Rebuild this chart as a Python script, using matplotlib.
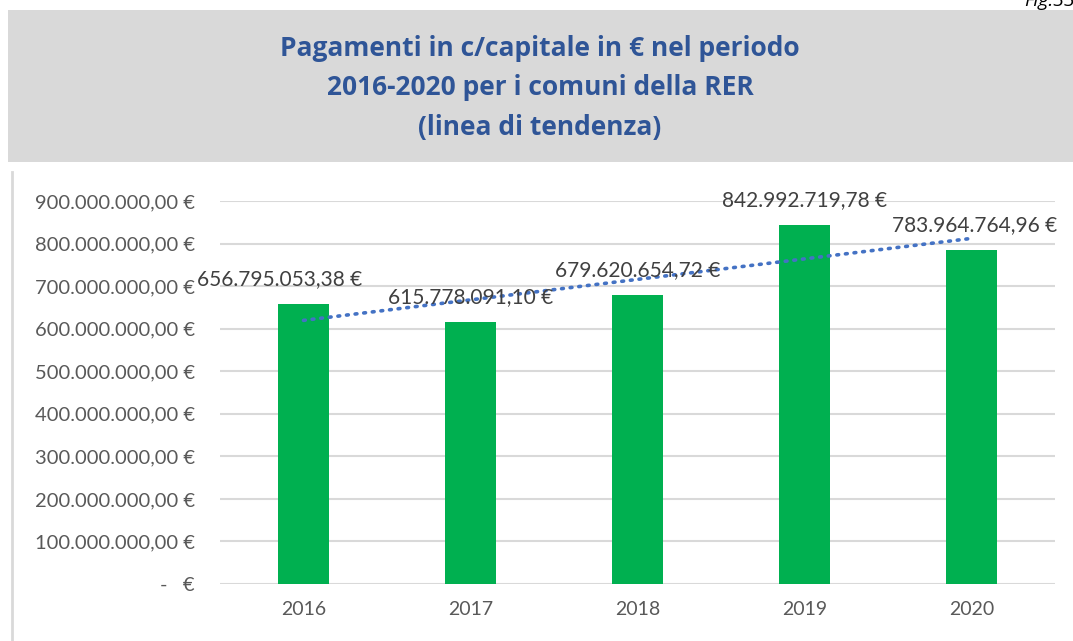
import numpy as np
import matplotlib.pyplot as plt
from matplotlib.patches import Rectangle
from matplotlib.ticker import FuncFormatter, MultipleLocator

# ---- Data ----
years = ["2016", "2017", "2018", "2019", "2020"]
payments = [656795053.38, 615778091.10, 679620654.72, 842992719.78, 783964764.96]
label_dx = [-0.14, 0.0, 0.0, 0.0, 0.02]   # data-label nudges (category units)

title_lines = [
    "Pagamenti in c/capitale in € nel periodo",
    "2016-2020 per i comuni della RER",
    "(linea di tendenza)",
]

BAR_GREEN = "#00b050"
TREND_BLUE = "#4472c4"
TITLE_BLUE = "#2f5597"
TEXT_GREY = "#595959"
GRID_GREY = "#d9d9d9"


def euro(v):
    """Italian accounting format: 1.234,56 €, zero shown as a dash."""
    if abs(v) < 0.5:
        return "-   €"
    s = f"{v:,.2f}".replace(",", "X").replace(".", ",").replace("X", ".")
    return s + " €"


W, H = 1073, 641
fig = plt.figure(figsize=(W / 100, H / 100), dpi=100)
fig.patch.set_facecolor("white")

# grey title band
fig.patches.append(Rectangle((8 / W, 1 - 162 / H), (W - 8) / W, 152 / H,
                             transform=fig.transFigure, facecolor="#d9d9d9",
                             edgecolor="none", zorder=0))
for i, line in enumerate(title_lines):
    fig.text(540 / W, 1 - (48 + 39.5 * i) / H, line, ha="center", va="center",
             fontsize=19, fontweight="bold", color=TITLE_BLUE, family="Open Sans")

fig.text(1 + 2 / W, 1 - 6 / H, "Fig.33", ha="right", va="baseline",
         fontsize=14, style="italic", color="#000000", family="Open Sans")

# chart frame edge on the left
fig.add_artist(plt.Line2D([12 / W, 12 / W], [0, 1 - 172 / H],
                          transform=fig.transFigure, color=GRID_GREY, lw=2))

ax = fig.add_axes([220 / W, 57 / H, (1055 - 220) / W, (584 - 201) / H])
x = np.arange(len(years))

ax.bar(x, payments, width=0.31, color=BAR_GREEN, zorder=3)

# linear trend line
coef = np.polyfit(x, payments, 1)
ax.plot(x, np.polyval(coef, x), color=TREND_BLUE, lw=2.6,
        linestyle=(0, (0.5, 1.9)), dash_capstyle="round", zorder=4)

for xi, v, dx in zip(x, payments, label_dx):
    ax.annotate(euro(v), (xi + dx, v), xytext=(0, 18), textcoords="offset points",
                ha="center", va="center", fontsize=15, color="#404040",
                family="Lato", zorder=5)

ax.set_xlim(-0.5, len(years) - 0.5)
ax.set_ylim(0, 9e8)
ax.yaxis.set_major_locator(MultipleLocator(1e8))
ax.yaxis.set_major_formatter(FuncFormatter(lambda v, _: euro(v)))
ax.set_xticks(x, years)

ax.grid(axis="y", color=GRID_GREY, lw=1.5, zorder=0)
ax.set_axisbelow(True)
for s in ax.spines.values():
    s.set_visible(False)
ax.tick_params(axis="y", length=0, pad=18, labelsize=14.5, labelcolor=TEXT_GREY)
ax.tick_params(axis="x", length=0, pad=12, labelsize=14, labelcolor=TEXT_GREY)
for lab in ax.get_xticklabels() + ax.get_yticklabels():
    lab.set_family("Lato")

fig.savefig("out.png", dpi=100)
